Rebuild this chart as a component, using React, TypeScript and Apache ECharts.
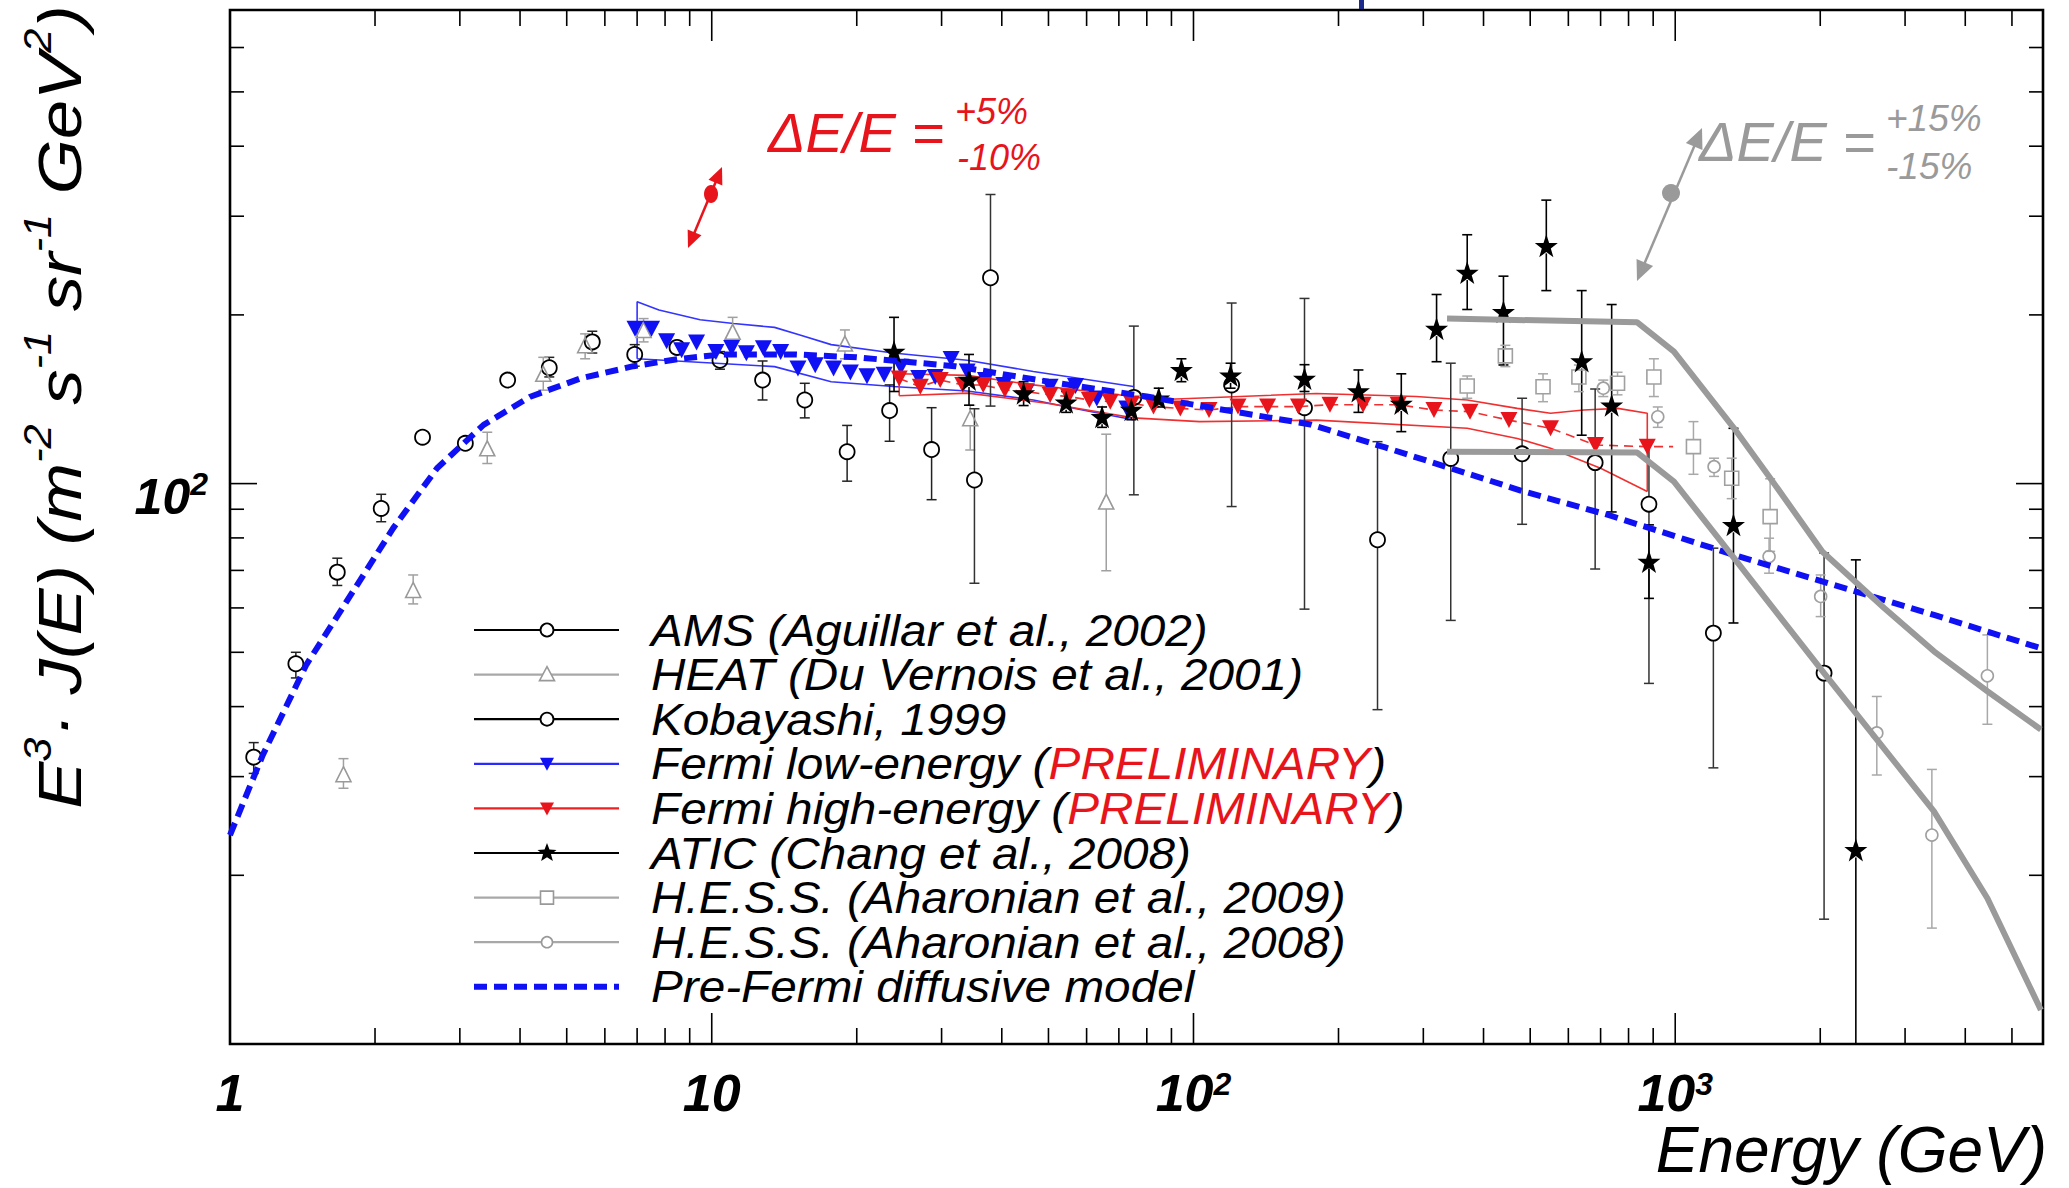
import React, { useEffect, useRef } from 'react';
import * as echarts from 'echarts';

const FONT = '"Liberation Sans", Arial, Helvetica, sans-serif';
const X_MIN = 1;
const X_MAX = 5800;
const Y_MIN = 10;
const Y_MAX = 700;

// tick values
const xMajorTicks = [10, 100, 1000];
const xMinorTicks = [2, 3, 4, 5, 6, 7, 8, 9, 20, 30, 40, 50, 60, 70, 80, 90, 200, 300, 400, 500, 600, 700, 800, 900, 2000, 3000, 4000, 5000];
const yMajorTicks = [100];
const yMinorTicks = [20, 30, 40, 50, 60, 70, 80, 90, 200, 300, 400, 500, 600];

// [Energy GeV, E^3 J(E), low, high]
const amsData = [
  [1.12, 32.5, 30.4, 34.5], [1.37, 47.7, 45.0, 50.0], [1.67, 69.5, 65.8, 73.6], [2.06, 90.3, 85.5, 95.7],
  [2.51, 121, 118, 124], [3.08, 118, 114, 122], [3.77, 153, 150, 156], [4.6, 161, 155, 168],
  [5.65, 179, 171, 187], [6.92, 170, 162, 177], [8.47, 175, 169, 181], [10.4, 166, 160, 172],
  [12.75, 153, 141, 165.5], [15.6, 141, 131, 151], [19.1, 114, 101, 127], [23.4, 135, 119, 150],
  [28.6, 115, 93.6, 136.6],
];
const heatData = [
  [1.72, 30.3, 28.6, 32.3], [2.4, 64.6, 61.0, 68.7], [3.42, 115.6, 108.6, 123.5], [4.47, 157, 146.8, 168],
  [5.46, 176.6, 167, 185], [7.22, 188, 179, 197], [11.05, 186.6, 179, 198], [18.9, 177.8, 167, 188],
  [34.4, 130.8, 114.8, 138], [65.9, 92.9, 69.9, 122.5],
];
const kobayashiData = [
  [35.1, 101.5, 66.4, 136], [37.9, 233, 137.5, 328], [75.2, 142.5, 95.5, 191], [120, 150, 91, 210],
  [170, 136.6, 59.7, 214], [241, 79.4, 39.5, 118.8], [342, 110.9, 57, 164], [481, 113, 84.6, 142],
  [682, 109, 70.4, 147.5], [882, 91.9, 44, 118.8], [1200, 54.1, 31.1, 76.7], [2037, 45.9, 16.7, 75.2],
];
const aticData = [
  [23.9, 172, 146, 198], [34.2, 153.4, 138, 170], [44.4, 145, 137.8, 152], [54.4, 139.7, 134, 146],
  [64.6, 131.6, 126, 137], [74.3, 135.5, 130, 141], [84.7, 142, 137, 148], [94.4, 159.6, 152, 167],
  [119.4, 156, 148, 164], [170, 154, 146, 163], [220, 146.3, 134, 159.5], [270, 139, 123.8, 157],
  [319.6, 189, 165, 217.5], [370, 238, 204.5, 278], [440, 202.6, 162.8, 234.5], [540, 265.6, 221, 320.5],
  [639.5, 165.5, 122, 221], [738, 138, 89, 208.7], [882, 72.6, 62.4, 84.4], [1321, 84.4, 56.4, 125.5],
  [2371, 22.2, 10, 73.1],
];
const hess2009Data = [
  [370, 149.3, 142, 155.6], [444, 169, 161.7, 176.5], [531.6, 148.9, 140, 157], [631, 155, 145.9, 162.8],
  [759, 151, 144, 158], [903, 155, 143, 167], [1091, 116.4, 103.9, 129], [1310, 102.2, 94, 111],
  [1574, 87.3, 75.7, 102],
];
const hess2008Data = [
  [709, 148, 143, 153], [920, 131.6, 126, 137], [1204, 107.2, 103, 111], [1566, 74.1, 69.2, 79.9],
  [2004, 62.9, 57.9, 68.7], [2621, 35.9, 30.2, 41.7], [3410, 23.6, 16.1, 30.9], [4446, 45.4, 37.2, 53.7],
];

// Fermi points [E, value]
const fermiLowEnergy = [
  [6.93, 189], [7.5, 189], [8.06, 179.5], [8.66, 173], [9.3, 178.6], [10.2, 171.8], [11.0, 174.6],
  [11.8, 170.8], [12.8, 174.3], [13.9, 171.8], [15.1, 160.5], [16.4, 162.7], [17.9, 160.5], [19.4, 157.9],
  [21.0, 155.5], [22.8, 156.4], [24.7, 161.7], [26.9, 154.3], [29.1, 155], [31.4, 166.8], [33.9, 158.5],
  [37.0, 153], [40.4, 149.9], [45, 146], [50.4, 148.9], [56.9, 149.4], [63.0, 141.9], [72.7, 136.2],
];
const fermiLowBandUpper = [
  [7.0, 167], [7.0, 211], [7.77, 204], [9.46, 196], [11.1, 193], [13.5, 190], [15.3, 184], [17.7, 177],
  [23.8, 171], [33.9, 166], [46.5, 158.5], [75, 149],
];
const fermiLowBandLower = [
  [7.0, 167], [10.2, 164], [13.5, 161.7], [17.7, 152], [23.8, 149], [33.9, 146.3], [46.5, 141],
  [59.2, 135.2], [75, 130],
];
const fermiHighEnergy = [
  [24.5, 154], [27.1, 148.9], [29.8, 153], [33.2, 150], [36.6, 149.9], [40.6, 147], [44.9, 146],
  [50.4, 143.9], [55, 143], [60.8, 141], [67.2, 140], [74.4, 139], [82.6, 137.2], [93.9, 136.2],
  [107.7, 135.3], [123.7, 137.2], [142.5, 137.2], [165.2, 137.2], [192, 138.3], [225, 138.3], [266, 138.3],
  [315.6, 135.3], [375, 134.4], [451.7, 129.8], [551, 125.5], [683, 117.2], [875, 116.4],
];
const fermiHighLastBinEdge = [[990, 116.4]];
const fermiHighBandUpper = [
  [24.5, 143.5], [24.5, 157], [33.9, 156], [46.5, 150], [75, 143], [81.5, 141], [180, 144.8], [290, 143],
  [370, 141], [470, 136.2], [551, 133.5], [646, 135.3], [760, 136.2], [875, 133.5], [875, 96.8],
];
const fermiHighBandLower = [
  [24.5, 143.5], [34, 145], [50, 139], [75, 131], [103, 129], [180, 129.8], [370, 125.5], [470, 120.4],
  [551, 115.6], [700, 106.5], [875, 96.8],
];

// Pre-Fermi diffusive model
const preFermiModel = [
  [1, 23.6], [1.17, 32.8], [1.44, 47.5], [1.8, 64.2], [2.18, 83.2], [2.69, 106.5], [3.36, 127.3],
  [4.2, 142.9], [5.33, 154], [6.88, 162], [8.6, 167], [10.5, 170], [15, 170], [20, 168], [32, 162],
  [50, 152], [80, 143], [112, 136], [175, 127.5], [250, 116], [342, 106.5], [485, 96.8], [723, 88],
  [1325, 74.6], [2138, 65.9], [3444, 58.3], [5800, 50.7],
];
// grey systematic curves
const greyUpper = [
  [336, 197], [834, 194], [994, 172], [1325, 125.5], [1566, 103], [2021, 75.6], [2714, 60], [3444, 50.2],
  [4446, 42.6], [5742, 36.4],
];
const greyLower = [
  [336, 114], [834, 113.6], [994, 100.8], [1325, 73.6], [2037, 45.9], [3444, 26], [4446, 18.2], [5742, 11.5],
];

const legendLabels = [
  'AMS (Aguillar et al., 2002)',
  'HEAT (Du Vernois et al., 2001)',
  'Kobayashi, 1999',
  'Fermi low-energy (',
  'Fermi high-energy (',
  'ATIC (Chang et al., 2008)',
  'H.E.S.S. (Aharonian et al., 2009)',
  'H.E.S.S. (Aharonian et al., 2008)',
  'Pre-Fermi diffusive model',
];

const RED = '#e8141c';
const BLUE = '#1010f5';
const GREY = '#9a9a9a';
const STAR = 'path://M50,2 L61.5,36 L97,36 L68.5,57.5 L79,92 L50,71 L21,92 L31.5,57.5 L3,36 L38.5,36 Z';

function errSeries(name: string, data: number[][], color: string, gap: number, width = 1.5) {
  return {
    type: 'custom',
    name,
    data,
    encode: { x: 0, y: 1 },
    z: 3,
    silent: true,
    clip: true,
    renderItem: (params: any, api: any) => {
      const x = api.value(0), v = api.value(1), lo = api.value(2), hi = api.value(3);
      const c = api.coord([x, v]);
      const l = api.coord([x, lo]);
      const h = api.coord([x, hi]);
      const st = { stroke: color, lineWidth: width };
      const ch: any[] = [];
      if (l[1] - c[1] > gap + 1) {
        ch.push({ type: 'line', shape: { x1: c[0], y1: c[1] + gap, x2: c[0], y2: l[1] }, style: st });
        ch.push({ type: 'line', shape: { x1: c[0] - 5, y1: l[1], x2: c[0] + 5, y2: l[1] }, style: st });
      }
      if (c[1] - h[1] > gap + 1) {
        ch.push({ type: 'line', shape: { x1: c[0], y1: c[1] - gap, x2: c[0], y2: h[1] }, style: st });
        ch.push({ type: 'line', shape: { x1: c[0] - 5, y1: h[1], x2: c[0] + 5, y2: h[1] }, style: st });
      }
      return { type: 'group', children: ch };
    },
  };
}

function markerSeries(name: string, data: number[][], symbol: string, size: any, fill: string, stroke: string, bw: number, rotate = 0) {
  return {
    type: 'scatter',
    name,
    data: data.map((d) => [d[0], d[1]]),
    symbol,
    symbolSize: size,
    symbolRotate: rotate,
    itemStyle: { color: fill, borderColor: stroke, borderWidth: bw, opacity: 1 },
    z: 4,
    silent: true,
  };
}

function lineSeries(name: string, data: number[][], color: string, width: number, type: any = 'solid', z = 2) {
  return {
    type: 'line',
    name,
    data,
    symbol: 'none',
    showSymbol: false,
    smooth: false,
    lineStyle: { color, width, type },
    z,
    silent: true,
  };
}

function arrow(ax: number, ay: number, bx: number, by: number, color: string, len: number, hw: number, lw: number) {
  const dx = bx - ax, dy = by - ay;
  const L = Math.sqrt(dx * dx + dy * dy);
  const ux = dx / L, uy = dy / L;
  const px = -uy, py = ux;
  const head = (tx: number, ty: number, sx: number, sy: number) => {
    const bxx = tx - sx * len, byy = ty - sy * len;
    return {
      type: 'polygon',
      shape: { points: [[tx, ty], [bxx + px * hw, byy + py * hw], [bxx - px * hw, byy - py * hw]] },
      style: { fill: color },
    };
  };
  return [
    { type: 'line', shape: { x1: ax + ux * len * 0.8, y1: ay + uy * len * 0.8, x2: bx - ux * len * 0.8, y2: by - uy * len * 0.8 }, style: { stroke: color, lineWidth: lw } },
    head(bx, by, ux, uy),
    head(ax, ay, -ux, -uy),
  ];
}

function starPoints(cx: number, cy: number, R: number, r: number) {
  const pts: number[][] = [];
  for (let k = 0; k < 10; k++) {
    const a = -Math.PI / 2 + (k * Math.PI) / 5;
    const rad = k % 2 ? r : R;
    pts.push([cx + rad * Math.cos(a), cy + rad * Math.sin(a)]);
  }
  return pts;
}

function buildGraphics() {
  const g: any[] = [];
  const ital = { fontStyle: 'italic', fontFamily: FONT };
  // Y axis title
  g.push({
    type: 'text', x: 60, y: 407, rotation: Math.PI / 2, scaleX: 1.14,
    style: {
      text: '{n|E}{s|3}{n|· J(E) (m}{s|-2}{n| s}{s|-1}{n| sr}{s|-1}{n| GeV}{s|2}{n|)}',
      rich: {
        n: { fontSize: 62, ...ital, fill: '#000', lineHeight: 82 },
        s: { fontSize: 38, ...ital, fill: '#000', lineHeight: 40, verticalAlign: 'top' },
      },
      align: 'center', verticalAlign: 'middle',
    },
  });
  // X axis title
  g.push({ type: 'text', x: 2047, y: 1150, style: { text: 'Energy (GeV)', fontSize: 64, lineHeight: 44, ...ital, fill: '#000', align: 'right', verticalAlign: 'middle' } });

  // red annotation
  g.push({ type: 'text', x: 768, y: 132, style: { text: 'ΔE/E =', fontSize: 56, ...ital, fill: RED, align: 'left', verticalAlign: 'middle' } });
  g.push({ type: 'text', x: 955, y: 111, style: { text: '+5%', fontSize: 36, ...ital, fill: RED, align: 'left', verticalAlign: 'middle' } });
  g.push({ type: 'text', x: 957, y: 157, style: { text: '-10%', fontSize: 36, ...ital, fill: RED, align: 'left', verticalAlign: 'middle' } });
  g.push(...arrow(688, 248, 722, 167, RED, 17, 7.5, 2.5));
  g.push({ type: 'ellipse', shape: { cx: 711, cy: 194, rx: 7, ry: 9 }, style: { fill: RED } });

  // grey annotation
  g.push({ type: 'text', x: 1699, y: 141, style: { text: 'ΔE/E =', fontSize: 56, ...ital, fill: GREY, align: 'left', verticalAlign: 'middle' } });
  g.push({ type: 'text', x: 1886, y: 118, style: { text: '+15%', fontSize: 37, ...ital, fill: GREY, align: 'left', verticalAlign: 'middle' } });
  g.push({ type: 'text', x: 1886, y: 166, style: { text: '-15%', fontSize: 37, ...ital, fill: GREY, align: 'left', verticalAlign: 'middle' } });
  g.push(...arrow(1637, 281, 1702, 128, GREY, 20, 9, 2.5));
  g.push({ type: 'circle', shape: { cx: 1671, cy: 193, r: 9 }, style: { fill: GREY } });

  // small cut-off mark at top
  g.push({ type: 'rect', shape: { x: 1359, y: 0, width: 5, height: 9 }, style: { fill: '#1c2a8c' } });

  // legend
  const x0 = 474, x1 = 619, mx = 547, tx = 651;
  const rowY = (i: number) => 630 + i * 44.6;
  const lineColors = ['#000', '#a8a8a8', '#000', '#2a2aff', '#f02020', '#000', '#a8a8a8', '#a8a8a8', BLUE];
  legendLabels.forEach((lab, i) => {
    const y = rowY(i);
    if (i === 8) {
      g.push({ type: 'line', shape: { x1: x0, y1: y, x2: x1, y2: y }, style: { stroke: BLUE, lineWidth: 6, lineDash: [13, 7] } });
    } else {
      g.push({ type: 'line', shape: { x1: x0, y1: y, x2: x1, y2: y }, style: { stroke: lineColors[i], lineWidth: 2.2 } });
    }
    if (i === 0 || i === 2) g.push({ type: 'circle', shape: { cx: mx, cy: y, r: 6.5 }, style: { fill: '#fff', stroke: '#000', lineWidth: 1.8 } });
    if (i === 1) g.push({ type: 'polygon', shape: { points: [[mx, y - 8], [mx + 7.5, y + 6], [mx - 7.5, y + 6]] }, style: { fill: '#fff', stroke: '#999', lineWidth: 1.6 } });
    if (i === 3) g.push({ type: 'polygon', shape: { points: [[mx - 7, y - 6], [mx + 7, y - 6], [mx, y + 7]] }, style: { fill: BLUE } });
    if (i === 4) g.push({ type: 'polygon', shape: { points: [[mx - 7, y - 6], [mx + 7, y - 6], [mx, y + 7]] }, style: { fill: RED } });
    if (i === 5) g.push({ type: 'polygon', shape: { points: starPoints(mx, y, 10, 4.2) }, style: { fill: '#000' } });
    if (i === 6) g.push({ type: 'rect', shape: { x: mx - 6.5, y: y - 6.5, width: 13, height: 13 }, style: { fill: '#fff', stroke: '#999', lineWidth: 1.6 } });
    if (i === 7) g.push({ type: 'circle', shape: { cx: mx, cy: y, r: 5.5 }, style: { fill: '#fff', stroke: '#999', lineWidth: 1.6 } });
    const text = i === 3 || i === 4 ? `{k|${lab}}{r|PRELIMINARY}{k|)}` : `{k|${lab}}`;
    g.push({
      type: 'text', x: tx, y, scaleX: 1.06,
      style: {
        text,
        rich: {
          k: { fontSize: 45, ...ital, fill: '#000', lineHeight: 40 },
          r: { fontSize: 45, ...ital, fill: RED, lineHeight: 40 },
        },
        align: 'left', verticalAlign: 'middle',
      },
    });
  });
  return g;
}

function buildOption() {
  const tickData = [
    ...xMajorTicks.map((v) => [v, Y_MIN, 0]),
    ...xMinorTicks.map((v) => [v, Y_MIN, 1]),
    ...yMajorTicks.map((v) => [X_MIN, v, 2]),
    ...yMinorTicks.map((v) => [X_MIN, v, 3]),
  ];
  const tickSeries = {
    type: 'custom',
    name: 'ticks',
    data: tickData,
    encode: { x: 0, y: 1 },
    z: 6,
    silent: true,
    clip: false,
    renderItem: (params: any, api: any) => {
      const cs = params.coordSys;
      const kind = api.value(2);
      const st = { stroke: '#000', lineWidth: 1.6 };
      if (kind < 2) {
        const px = api.coord([api.value(0), Y_MIN])[0];
        const L = kind === 0 ? 31 : 16;
        const b = cs.y + cs.height;
        return {
          type: 'group', children: [
            { type: 'line', shape: { x1: px, y1: b, x2: px, y2: b - L }, style: st },
            { type: 'line', shape: { x1: px, y1: cs.y, x2: px, y2: cs.y + L }, style: st },
          ],
        };
      }
      const py = api.coord([X_MIN, api.value(1)])[1];
      const L = kind === 2 ? 27 : 14;
      const r = cs.x + cs.width;
      return {
        type: 'group', children: [
          { type: 'line', shape: { x1: cs.x, y1: py, x2: cs.x + L, y2: py }, style: st },
          { type: 'line', shape: { x1: r, y1: py, x2: r - L, y2: py }, style: st },
        ],
      };
    },
  };

  const labelRich = (fs: number, ss: number, lh: number, slh: number) => ({
    n: { fontSize: fs, fontStyle: 'italic', fontWeight: 'bold', fontFamily: FONT, color: '#000', lineHeight: lh },
    s: { fontSize: ss, fontStyle: 'italic', fontWeight: 'bold', fontFamily: FONT, color: '#000', lineHeight: slh, verticalAlign: 'top' },
  });

  return {
    animation: false,
    backgroundColor: '#fff',
    grid: { left: 230, right: 26, top: 10, bottom: 144, show: true, borderColor: '#000', borderWidth: 2.6, backgroundColor: 'transparent' },
    xAxis: {
      type: 'log', logBase: 10, min: X_MIN, max: X_MAX, splitNumber: 4,
      axisLine: { show: false }, axisTick: { show: false }, splitLine: { show: false },
      axisLabel: {
        margin: 24,
        formatter: (v: number) => {
          const p = Math.log10(v), r = Math.round(p);
          if (Math.abs(p - r) > 1e-6) return '';
          if (r === 0) return '{n|1}';
          if (r === 1) return '{n|10}';
          return `{n|10}{s|${r}}`;
        },
        rich: labelRich(52, 32, 50, 26),
      },
    },
    yAxis: {
      type: 'log', logBase: 10, min: Y_MIN, max: Y_MAX, splitNumber: 3,
      axisLine: { show: false }, axisTick: { show: false }, splitLine: { show: false },
      axisLabel: {
        margin: 22,
        padding: [26, 0, 0, 0],
        showMinLabel: false,
        formatter: (v: number) => {
          const p = Math.log10(v), r = Math.round(p);
          if (Math.abs(p - r) > 1e-6 || r !== 2) return '';
          return '{n|10}{s|2}';
        },
        rich: labelRich(50, 32, 58, 32),
      },
    },
    series: [
      lineSeries('Fermi LE band upper', fermiLowBandUpper, '#3434ff', 1.6),
      lineSeries('Fermi LE band lower', fermiLowBandLower, '#3434ff', 1.6),
      lineSeries('Fermi HE band upper', fermiHighBandUpper, '#f03030', 1.6),
      lineSeries('Fermi HE band lower', fermiHighBandLower, '#f03030', 1.6),
      lineSeries('Fermi HE centre', [...fermiHighEnergy, ...fermiHighLastBinEdge], '#f03030', 1.6, [9, 6], 2),
      errSeries('AMS err', amsData, '#222', 7.5),
      errSeries('HEAT err', heatData, '#a0a0a0', 7.5),
      errSeries('Kobayashi err', kobayashiData, '#333', 7.5),
      errSeries('ATIC err', aticData, '#000', 7.5, 1.6),
      errSeries('HESS 2009 err', hess2009Data, '#a8a8a8', 7),
      errSeries('HESS 2008 err', hess2008Data, '#a8a8a8', 6),
      markerSeries('AMS (Aguillar et al., 2002)', amsData, 'circle', 15, 'rgba(255,255,255,0)', '#000', 1.8),
      markerSeries('HEAT (Du Vernois et al., 2001)', heatData, 'triangle', [15, 15], 'rgba(255,255,255,0)', '#999', 1.6),
      markerSeries('Kobayashi, 1999', kobayashiData, 'circle', 15, 'rgba(255,255,255,0)', '#000', 1.8),
      markerSeries('H.E.S.S. (Aharonian et al., 2009)', hess2009Data, 'rect', 14, 'rgba(255,255,255,0)', '#a0a0a0', 1.6),
      markerSeries('H.E.S.S. (Aharonian et al., 2008)', hess2008Data, 'circle', 12, 'rgba(255,255,255,0)', '#a0a0a0', 1.6),
      markerSeries('Fermi low-energy', fermiLowEnergy, 'triangle', [17, 16], BLUE, BLUE, 0, 180),
      markerSeries('Fermi high-energy', fermiHighEnergy, 'triangle', [17, 16], RED, RED, 0, 180),
      markerSeries('ATIC (Chang et al., 2008)', aticData, STAR, 23, '#000', '#000', 0),
      lineSeries('Pre-Fermi diffusive model', preFermiModel, BLUE, 6, [13, 7], 5),
      lineSeries('grey upper', greyUpper, GREY, 6, 'solid', 5),
      lineSeries('grey lower', greyLower, GREY, 6, 'solid', 5),
      tickSeries,
    ],
    graphic: buildGraphics(),
  };
}

export default function App() {
  const ref = useRef<HTMLDivElement>(null);
  useEffect(() => {
    document.body.style.margin = '0';
    document.body.style.overflow = 'hidden';
    const chart = echarts.init(ref.current as HTMLDivElement, null, { renderer: 'svg', width: 2069, height: 1188 });
    chart.setOption(buildOption() as any);
    return () => chart.dispose();
  }, []);
  return <div ref={ref} style={{ position: 'absolute', left: 0, top: 0, width: 2069, height: 1188, background: '#fff' }} />;
}
